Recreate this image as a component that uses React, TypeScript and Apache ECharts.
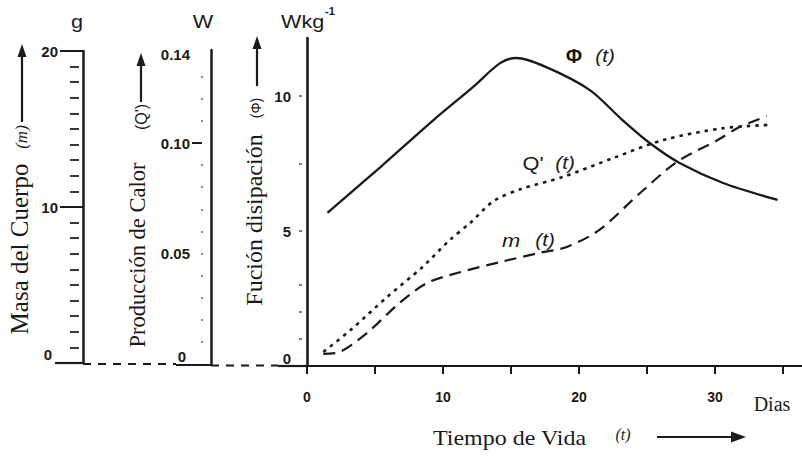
import React, { useEffect, useRef } from "react";
import * as echarts from "echarts";

const phiDays = [1.5, 5.4, 9.3, 12.2, 14.2, 15.4, 17.6, 20.8, 23.2, 25.2, 27.4, 30.6, 34.6];
const phiValues = [5.67, 7.37, 9.11, 10.33, 11.22, 11.41, 11.07, 10.22, 9.11, 8.26, 7.52, 6.78, 6.15];

const qDays = [1.2, 3.2, 5.9, 8.5, 10.5, 12.0, 13.7, 15.7, 18.8, 22.5, 26.2, 30.6, 34.0];
const qValues = [0.52, 1.33, 2.56, 3.67, 4.67, 5.3, 6.1, 6.55, 7.0, 7.7, 8.37, 8.81, 8.93];

const mDays = [1.2, 2.4, 4.4, 6.8, 8.8, 11.3, 14.2, 17.1, 19.1, 21.5, 24.5, 27.2, 30.2, 31.8, 33.8];
const mValues = [0.45, 0.52, 1.22, 2.33, 3.07, 3.48, 3.85, 4.19, 4.41, 5.04, 6.41, 7.56, 8.37, 8.85, 9.25];

// Marcas de los ejes
const dayTicks = [0, 5, 10, 15, 20, 25, 30, 35];
const dayLabels = [0, 10, 20, 30];
const dissLabels = [0, 5, 10];
const dissDots = [1, 2, 3, 5, 7.5, 10];
const massLabels = [0, 10, 20];
const massMajor = [10, 20];
const massMinor = [1, 2, 3, 4, 5, 6, 7, 8, 9, 11, 12, 13, 14, 15, 16, 17, 18, 19];
const heatLabels = [0, 0.05, 0.1, 0.14];
const heatDash = [0.1];
const heatDots = [0.01, 0.02, 0.03, 0.04, 0.05, 0.06, 0.07, 0.08, 0.09, 0.11, 0.12, 0.13];

const INK = "#1a1a1a";
const SANS = "Liberation Sans, Arial, sans-serif";
const SERIF = "Liberation Serif, Times New Roman, serif";

const tickFont = { fontFamily: SANS, fontWeight: "bold" as const, fontSize: 15, color: INK };

const zeroLabel = (padRight: number, padBottom: number, fmt: (v: number) => string) => ({
  ...tickFont,
  formatter: (v: number) => (v === 0 ? "{z|0}" : fmt(v)),
  rich: { z: { ...tickFont, padding: [0, padRight, padBottom, 0] } },
});

const hiddenAxis = (gridIndex: number) => ({ gridIndex, type: "value" as const, show: false, min: 0, max: 1 });

// eje auxiliar, solo con marcas cortas a la izquierda del eje principal
const sideAxis = (gridIndex: number, max: number, offset: number, values: number[], length: number, color: string, width: number) => ({
  gridIndex,
  type: "value" as const,
  position: "left" as const,
  min: 0,
  max,
  offset,
  axisLine: { show: false },
  axisTick: { show: true, customValues: values, length, lineStyle: { color, width } },
  axisLabel: { show: false },
  splitLine: { show: false },
});

const text = (
  t: string,
  x: number,
  y: number,
  size: number,
  opts: { family?: string; italic?: boolean; bold?: boolean; align?: string; rotate?: boolean; scaleX?: number } = {}
) => ({
  type: "text",
  x,
  y,
  rotation: opts.rotate ? Math.PI / 2 : 0,
  scaleX: opts.scaleX ?? 1,
  silent: true,
  style: {
    text: t,
    fill: INK,
    fontSize: size,
    fontFamily: opts.family ?? SANS,
    fontStyle: opts.italic ? "italic" : "normal",
    fontWeight: opts.bold ? "bold" : "normal",
    align: opts.align ?? "center",
    textAlign: opts.align ?? "center",
    verticalAlign: "middle",
    textVerticalAlign: "middle",
  },
});

const seg = (x1: number, y1: number, x2: number, y2: number, width: number, dash?: number[]) => ({
  type: "line",
  silent: true,
  shape: { x1, y1, x2, y2 },
  style: { stroke: INK, lineWidth: width, lineDash: dash ?? null },
});

const head = (points: number[][]) => ({
  type: "polygon",
  silent: true,
  shape: { points },
  style: { fill: INK },
});

const upArrow = (x: number, yBottom: number, yTip: number) => [
  seg(x, yBottom, x, yTip + 10, 2.2),
  head([[x, yTip], [x - 4.5, yTip + 13], [x + 4.5, yTip + 13]]),
];

const option = {
  animation: false,
  backgroundColor: "#ffffff",
  grid: [
    { left: 307, top: 38, right: 0, bottom: 90 },
    { left: 83, top: 51, width: 1, bottom: 93 },
    { left: 211, top: 50, width: 1, bottom: 92 },
  ],
  xAxis: [
    {
      gridIndex: 0,
      type: "value",
      min: 0,
      max: 36.4,
      axisLine: { show: true, lineStyle: { color: INK, width: 2 } },
      axisTick: { show: true, customValues: dayTicks, length: 8, lineStyle: { color: INK, width: 2 } },
      axisLabel: { customValues: dayLabels, margin: 24, ...tickFont, fontSize: 14 },
      splitLine: { show: false },
    },
    hiddenAxis(1),
    hiddenAxis(2),
  ],
  yAxis: [
    {
      gridIndex: 0,
      type: "value",
      position: "left",
      min: 0,
      max: 12.15,
      axisLine: { show: true, lineStyle: { color: INK, width: 2.6 } },
      axisTick: { show: false },
      axisLabel: { customValues: dissLabels, margin: 16, ...zeroLabel(0, 16, (v) => String(v)) },
      splitLine: { show: false },
    },
    sideAxis(0, 12.15, 5, dissDots, 3, "#555", 1.5),
    {
      gridIndex: 1,
      type: "value",
      position: "left",
      min: 0,
      max: 20,
      axisLine: { show: true, lineStyle: { color: INK, width: 2.5 } },
      axisTick: { show: true, customValues: massMajor, length: 23, lineStyle: { color: INK, width: 2 } },
      axisLabel: { customValues: massLabels, margin: 25, ...zeroLabel(6, 18, (v) => String(v)) },
      splitLine: { show: false },
    },
    sideAxis(1, 20, 4, massMinor, 9, "#3a3a3a", 2),
    {
      gridIndex: 2,
      type: "value",
      position: "left",
      min: 0,
      max: 0.1421,
      axisLine: { show: true, lineStyle: { color: INK, width: 2.5 } },
      axisTick: { show: false },
      axisLabel: { customValues: heatLabels, margin: 21, ...zeroLabel(4, 16, (v) => v.toFixed(2)) },
      splitLine: { show: false },
    },
    sideAxis(2, 0.1421, 9, heatDash, 10, INK, 2),
    sideAxis(2, 0.1421, 8, heatDots, 2, "#666", 1.5),
  ],
  series: [
    {
      name: "Φ (t)",
      type: "line",
      xAxisIndex: 0,
      yAxisIndex: 0,
      data: phiDays.map((d, i) => [d, phiValues[i]]),
      smooth: 0.3,
      symbol: "none",
      silent: true,
      lineStyle: { color: INK, width: 2.3 },
    },
    {
      name: "Q' (t)",
      type: "line",
      xAxisIndex: 0,
      yAxisIndex: 0,
      data: qDays.map((d, i) => [d, qValues[i]]),
      smooth: 0.3,
      symbol: "none",
      silent: true,
      lineStyle: { color: INK, width: 2.6, type: [3.5, 5] },
    },
    {
      name: "m (t)",
      type: "line",
      xAxisIndex: 0,
      yAxisIndex: 0,
      data: mDays.map((d, i) => [d, mValues[i]]),
      smooth: 0.3,
      symbol: "none",
      silent: true,
      lineStyle: { color: INK, width: 2.2, type: [12, 7] },
    },
  ],
  graphic: [
    // unidades
    text("g", 77, 22, 18, { scaleX: 1.2 }),
    text("W", 203, 22, 18, { scaleX: 1.2 }),
    text("Wkg", 281, 22, 18, { align: "left", scaleX: 1.2 }),
    text("-1", 330, 11, 11, { bold: true }),

    // títulos verticales
    text("Masa del Cuerpo", 19, 249, 25, { family: SERIF, rotate: true }),
    text("(m)", 21, 137, 17, { family: SERIF, italic: true, rotate: true }),
    ...upArrow(22, 122, 44),

    text("Producción de Calor", 137, 255, 22.5, { family: SERIF, rotate: true }),
    text("(Q')", 141, 117, 16, { rotate: true }),
    ...upArrow(141, 102, 53),

    text("Fución disipación", 254, 220, 24, { family: SERIF, rotate: true }),
    text("(Φ)", 256, 108, 14, { rotate: true }),
    ...upArrow(257, 86, 36),

    // línea base común
    seg(55, 363, 83, 363, 2.2),
    seg(83, 364, 176, 364, 2, [8, 7]),
    seg(176, 365, 211, 365, 2.2),
    seg(211, 365.5, 278, 365.5, 2, [8, 7]),
    seg(278, 366, 308, 366, 2.2),

    // rótulos de las curvas
    text("Φ", 574, 56, 20, { bold: true }),
    text("(t)", 605, 56, 18, { italic: true, scaleX: 1.15 }),
    text("Q'", 533, 163, 19, { scaleX: 1.15 }),
    text("(t)", 565, 163, 18, { italic: true, scaleX: 1.15 }),
    text("m", 511, 240, 19, { italic: true, scaleX: 1.15 }),
    text("(t)", 545, 240, 18, { italic: true, scaleX: 1.15 }),

    // eje del tiempo
    text("Dias", 772, 404, 20, { family: SERIF }),
    text("Tiempo de Vida", 433, 438, 20, { family: SERIF, align: "left", scaleX: 1.2 }),
    text("(t)", 623, 434, 16, { family: SERIF, italic: true }),
    seg(657, 437, 735, 437, 2),
    head([[746, 437], [731, 431.5], [731, 442.5]]),
  ],
};

export default function App() {
  const ref = useRef<HTMLDivElement>(null);

  useEffect(() => {
    if (!ref.current) return;
    const chart = echarts.init(ref.current, null, { renderer: "svg" });
    chart.setOption(option as any);
    return () => chart.dispose();
  }, []);

  return (
    <div
      ref={ref}
      style={{ position: "absolute", left: 0, top: 0, width: 802, height: 456, background: "#fff" }}
    />
  );
}
